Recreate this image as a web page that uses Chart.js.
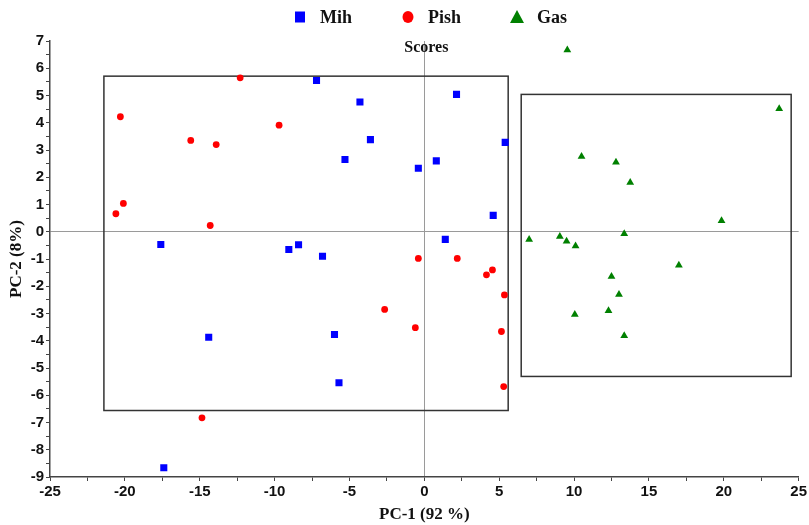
<!DOCTYPE html>
<html><head><meta charset="utf-8">
<script src="https://cdn.jsdelivr.net/npm/chart.js@4.4.0/dist/chart.umd.min.js"></script>
<style>html,body{margin:0;padding:0;background:#fff}#wrap{width:809px;height:525px}</style>
</head><body><div id="wrap"><canvas id="c" width="809" height="525"></canvas></div>
<script>
// ---- data ----
const seriesNames = ['Mih', 'Pish', 'Gas'];
const mihX = [-7.2, -4.3, 2.15, -3.6, -5.3, 0.8, -0.4, 5.4, 4.6, -17.6, -9.05, -8.4, -6.8, 1.4, -14.4, -6.0, -5.7, -17.4];
const mihY = [5.55, 4.76, 5.04, 3.38, 2.65, 2.6, 2.33, 3.28, 0.6, -0.47, -0.65, -0.48, -0.9, -0.28, -3.87, -3.77, -5.54, -8.66];
const pishX = [-12.3, -20.3, -9.7, -15.6, -13.9, -20.1, -20.6, -14.3, -0.4, -2.65, -0.6, -14.85, 2.2, 4.55, 4.15, 5.35, 5.15, 5.3];
const pishY = [5.65, 4.22, 3.91, 3.35, 3.2, 1.04, 0.66, 0.23, -0.98, -2.85, -3.52, -6.83, -0.98, -1.4, -1.58, -2.32, -3.66, -5.68];
const gasX = [9.55, 23.7, 10.5, 12.8, 13.75, 19.85, 7.0, 9.05, 9.5, 10.1, 13.35, 17.0, 12.5, 13.0, 12.3, 10.05, 13.35];
const gasY = [6.67, 4.51, 2.76, 2.55, 1.81, 0.4, -0.28, -0.17, -0.35, -0.52, -0.07, -1.23, -1.64, -2.3, -2.9, -3.04, -3.82];
// group boxes: [xMin, xMax, yMin, yMax]
const boxMih = [-21.4, 5.6, -6.56, 5.71];
const boxGas = [6.47, 24.5, -5.31, 5.04];
const xTitle = 'PC-1 (92 %)';
const yTitle = 'PC-2 (8%)';
const chartTitle = 'Scores';

const toPts = (xs, ys) => xs.map((x, i) => ({x: x, y: ys[i]}));

const serif = '"Liberation Serif", "Times New Roman", serif';
const sans = '"Liberation Sans Narrow", "Liberation Sans", Arial, sans-serif';

const overlay = {
  id: 'overlay',
  beforeDatasetsDraw(chart) {
    const {ctx, scales: {x, y}} = chart;
    ctx.save();
    ctx.strokeStyle = '#333';
    ctx.lineWidth = 1.5;
    [boxMih, boxGas].forEach(b => {
      const x0 = x.getPixelForValue(b[0]), x1 = x.getPixelForValue(b[1]);
      const y0 = y.getPixelForValue(b[3]), y1 = y.getPixelForValue(b[2]);
      ctx.strokeRect(x0, y0, x1 - x0, y1 - y0);
    });
    ctx.restore();
  },
  afterDraw(chart) {
    const {ctx, chartArea} = chart;
    ctx.save();
    // chart title inside the plot
    ctx.font = 'bold 16px ' + serif;
    ctx.fillStyle = '#111';
    ctx.textAlign = 'center';
    ctx.textBaseline = 'middle';
    ctx.fillText(chartTitle, (chartArea.left + chartArea.right) / 2 + 2, 48);
    // legend
    ctx.font = 'bold 18px ' + serif;
    ctx.textAlign = 'left';
    const ds = chart.data.datasets;
    const textOff = 20, gap = 56;
    const widths = ds.map(d => ctx.measureText(d.label).width);
    let total = 5;
    widths.forEach((w, i) => { total += textOff + w + (i < widths.length - 1 ? gap : 0); });
    let cx = 431 - total / 2 + 5;
    const cy = 17;
    ds.forEach((d, i) => {
      ctx.fillStyle = d.backgroundColor;
      ctx.beginPath();
      if (d.pointStyle === 'rect') {
        ctx.rect(cx - 5, cy - 5.5, 10, 11);
      } else if (d.pointStyle === 'circle') {
        ctx.ellipse(cx, cy, 5.5, 6, 0, 0, Math.PI * 2);
      } else {
        ctx.moveTo(cx, cy - 7);
        ctx.lineTo(cx + 7, cy + 6);
        ctx.lineTo(cx - 7, cy + 6);
        ctx.closePath();
      }
      ctx.fill();
      ctx.fillStyle = '#111';
      ctx.fillText(d.label, cx + textOff, cy + 1);
      cx += textOff + widths[i] + gap;
    });
    ctx.restore();
  }
};

const gridColor = c => (c.tick && c.tick.value === 0) ? '#9a9a9a' : 'rgba(0,0,0,0)';

new Chart(document.getElementById('c'), {
  type: 'scatter',
  data: {
    datasets: [
      {label: seriesNames[0], data: toPts(mihX, mihY), backgroundColor: '#0000ff', borderColor: '#0000ff', pointStyle: 'rect', pointRadius: 5, borderWidth: 0},
      {label: seriesNames[1], data: toPts(pishX, pishY), backgroundColor: '#ff0000', borderColor: '#ff0000', pointStyle: 'circle', pointRadius: 3.4, borderWidth: 0},
      {label: seriesNames[2], data: toPts(gasX, gasY), backgroundColor: '#008000', borderColor: '#008000', pointStyle: 'triangle', pointRadius: 4.5, borderWidth: 0}
    ]
  },
  options: {
    responsive: false,
    animation: false,
    layout: {padding: {top: 41, right: 4, left: 0, bottom: 0}},
    plugins: {legend: {display: false}, title: {display: false}, tooltip: {enabled: false}},
    scales: {
      x: {
        type: 'linear', min: -25, max: 25,
        border: {display: true, color: '#444', width: 1.5},
        grid: {color: gridColor, lineWidth: 1, tickColor: '#444', tickLength: 4, drawTicks: true},
        ticks: {stepSize: 2.5, autoSkip: false, maxRotation: 0, padding: 2, color: '#111',
          font: {family: sans, size: 15, weight: 'bold'},
          callback: v => (Math.abs(v % 5) < 1e-9 ? String(v) : '')},
        title: {display: true, text: xTitle, color: '#111', padding: {top: 2, bottom: 0}, font: {family: serif, size: 17, weight: 'bold'}},
        afterFit: s => { s.height = 48; }
      },
      y: {
        type: 'linear', min: -9, max: 7,
        border: {display: true, color: '#444', width: 1.5},
        grid: {color: gridColor, lineWidth: 1, tickColor: '#444', tickLength: 4, drawTicks: true},
        ticks: {stepSize: 0.5, autoSkip: false, padding: 2, color: '#111',
          font: {family: sans, size: 15, weight: 'bold'},
          callback: v => (Math.abs(v % 1) < 1e-9 ? String(v) : '')},
        title: {display: true, text: yTitle, color: '#111', padding: {top: 6, bottom: 0}, font: {family: serif, size: 17, weight: 'bold'}},
        afterFit: s => { s.width = 50; }
      }
    }
  },
  plugins: [overlay]
});
</script>
</body></html>
